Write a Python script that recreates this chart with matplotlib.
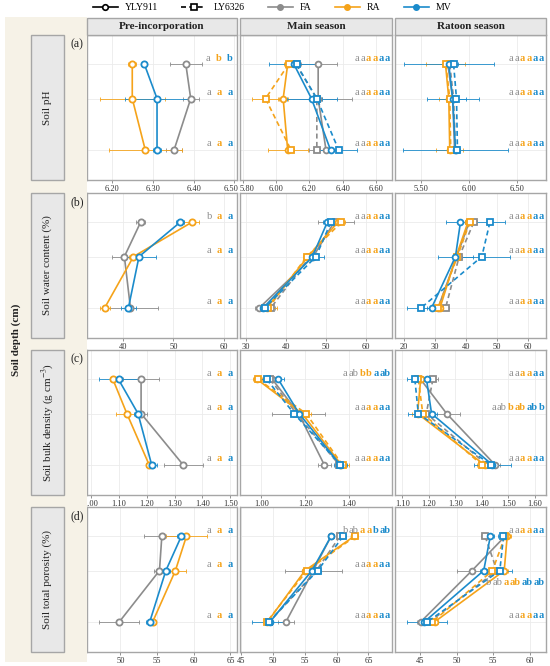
import matplotlib
matplotlib.use('Agg')
import matplotlib.pyplot as plt
from matplotlib.patches import Rectangle
from matplotlib.lines import Line2D
from matplotlib.textpath import TextPath
from matplotlib.font_manager import FontProperties
from matplotlib.transforms import ScaledTranslation

FONT = 'Liberation Serif'
plt.rcParams['font.family'] = [FONT, 'DejaVu Serif']
plt.rcParams['mathtext.fontset'] = 'stix'

# ---------------- data ----------------
depth_mid = [2.5, 7.5, 15]
depth_labels = ['0–5', '5–10', '10–20']
treatments = ['FA', 'RA', 'MV']
cultivars = ['YLY911', 'LY6326']
periods = ['Pre-incorporation', 'Main season', 'Ratoon season']

# soil pH
ph_pre = {'FA': [6.381, 6.393, 6.352], 'RA': [6.249, 6.249, 6.281], 'MV': [6.279, 6.310, 6.310]}
ph_pre_se = {'FA': [0.04, 0.02, 0.02], 'RA': [0.01, 0.08, 0.09], 'MV': [0.005, 0.08, 0.01]}
ph_main = {'FA_YLY911': [6.253, 6.253, 6.300], 'FA_LY6326': [6.120, 6.245, 6.245],
           'RA_YLY911': [6.070, 6.043, 6.070], 'RA_LY6326': [6.075, 5.937, 6.090],
           'MV_YLY911': [6.108, 6.213, 6.327], 'MV_LY6326': [6.123, 6.245, 6.376]}
ph_main_se = {'FA_YLY911': [0.11, 0.20, 0.04], 'FA_LY6326': [0.03, 0.03, 0.05],
              'RA_YLY911': [0.02, 0.03, 0.12], 'RA_LY6326': [0.02, 0.08, 0.02],
              'MV_YLY911': [0.15, 0.15, 0.04], 'MV_LY6326': [0.02, 0.03, 0.11]}
ph_rat = {'FA_YLY911': [5.78, 5.83, 5.85], 'FA_LY6326': [5.80, 5.84, 5.86],
          'RA_YLY911': [5.756, 5.79, 5.80], 'RA_LY6326': [5.76, 5.80, 5.81],
          'MV_YLY911': [5.79, 5.83, 5.86], 'MV_LY6326': [5.84, 5.87, 5.88]}
ph_rat_se = {'FA_YLY911': [0.05, 0.05, 0.05], 'FA_LY6326': [0.03, 0.05, 0.03],
             'RA_YLY911': [0.20, 0.10, 0.14], 'RA_LY6326': [0.03, 0.03, 0.03],
             'MV_YLY911': [0.47, 0.27, 0.55], 'MV_LY6326': [0.05, 0.10, 0.03]}

# soil water content (%)
swc_pre = {'FA': [43.5, 40.3, 41.5], 'RA': [53.6, 42.1, 36.4], 'MV': [51.3, 43.2, 41.1]}
swc_pre_se = {'FA': [0.8, 2.5, 5.5], 'RA': [1.5, 0.8, 1.0], 'MV': [0.8, 3.3, 1.5]}
swc_main = {'FA_YLY911': [52.0, 46.8, 33.3], 'FA_LY6326': [52.5, 46.0, 36.2],
            'RA_YLY911': [52.9, 45.5, 35.2], 'RA_LY6326': [53.8, 45.2, 35.6],
            'MV_YLY911': [50.3, 46.6, 34.3], 'MV_LY6326': [51.2, 47.5, 34.7]}
swc_main_se = {'FA_YLY911': [1.5, 1.0, 1.0], 'FA_LY6326': [4.5, 1.0, 1.0],
               'RA_YLY911': [1.0, 1.0, 2.5], 'RA_LY6326': [1.0, 1.0, 1.0],
               'MV_YLY911': [1.0, 1.5, 1.0], 'MV_LY6326': [1.0, 2.0, 1.0]}
swc_rat = {'FA_YLY911': [41.0, 37.0, 31.0], 'FA_LY6326': [42.5, 37.8, 33.4],
           'RA_YLY911': [40.6, 36.8, 31.6], 'RA_LY6326': [41.2, 37.2, 31.0],
           'MV_YLY911': [38.2, 36.6, 28.9], 'MV_LY6326': [47.7, 45.1, 25.5]}
swc_rat_se = {'FA_YLY911': [1.0, 1.0, 1.0], 'FA_LY6326': [1.0, 1.0, 1.0],
              'RA_YLY911': [1.0, 1.0, 1.0], 'RA_LY6326': [1.5, 1.0, 1.0],
              'MV_YLY911': [4.8, 5.6, 1.5], 'MV_LY6326': [5.0, 9.0, 4.5]}

# soil bulk density (g cm-3)
bd_pre = {'FA': [1.180, 1.180, 1.331], 'RA': [1.079, 1.129, 1.209], 'MV': [1.099, 1.169, 1.218]}
bd_pre_se = {'FA': [0.065, 0.02, 0.07], 'RA': [0.01, 0.04, 0.01], 'MV': [0.07, 0.015, 0.02]}
bd_main = {'FA_YLY911': [1.050, 1.170, 1.287], 'FA_LY6326': [1.040, 1.160, 1.355],
           'RA_YLY911': [0.981, 1.186, 1.365], 'RA_LY6326': [0.985, 1.204, 1.370],
           'MV_YLY911': [1.077, 1.172, 1.360], 'MV_LY6326': [1.024, 1.149, 1.360]}
bd_main_se = {'FA_YLY911': [0.02, 0.12, 0.03], 'FA_LY6326': [0.02, 0.02, 0.02],
              'RA_YLY911': [0.02, 0.02, 0.02], 'RA_LY6326': [0.02, 0.02, 0.03],
              'MV_YLY911': [0.025, 0.02, 0.02], 'MV_LY6326': [0.03, 0.02, 0.03]}
bd_rat = {'FA_YLY911': [1.169, 1.267, 1.450], 'FA_LY6326': [1.215, 1.190, 1.420],
          'RA_YLY911': [1.169, 1.157, 1.410], 'RA_LY6326': [1.160, 1.177, 1.400],
          'MV_YLY911': [1.191, 1.210, 1.440], 'MV_LY6326': [1.147, 1.160, 1.435]}
bd_rat_se = {'FA_YLY911': [0.02, 0.05, 0.02], 'FA_LY6326': [0.02, 0.02, 0.02],
             'RA_YLY911': [0.02, 0.02, 0.02], 'RA_LY6326': [0.02, 0.02, 0.02],
             'MV_YLY911': [0.02, 0.02, 0.07], 'MV_LY6326': [0.03, 0.04, 0.02]}

# soil total porosity (%)
tp_pre = {'FA': [55.65, 55.33, 49.85], 'RA': [59.0, 57.5, 54.4], 'MV': [58.3, 56.2, 54.0]}
tp_pre_se = {'FA': [2.4, 0.7, 2.7], 'RA': [2.8, 1.4, 0.5], 'MV': [0.6, 0.5, 0.5]}
tp_main = {'FA_YLY911': [59.1, 56.3, 52.0], 'FA_LY6326': [60.5, 56.8, 49.4],
           'RA_YLY911': [62.7, 55.0, 49.1], 'RA_LY6326': [62.9, 55.3, 49.0],
           'MV_YLY911': [59.1, 56.1, 49.5], 'MV_LY6326': [61.0, 57.0, 49.3]}
tp_main_se = {'FA_YLY911': [0.5, 4.5, 1.3], 'FA_LY6326': [0.5, 0.5, 0.5],
              'RA_YLY911': [0.5, 0.5, 0.5], 'RA_LY6326': [0.5, 0.5, 0.5],
              'MV_YLY911': [0.5, 0.5, 2.8], 'MV_LY6326': [0.5, 0.5, 0.5]}
tp_rat = {'FA_YLY911': [56.6, 52.1, 45.1], 'FA_LY6326': [53.9, 55.5, 46.3],
          'RA_YLY911': [56.9, 56.5, 47.0], 'RA_LY6326': [56.6, 54.9, 46.7],
          'MV_YLY911': [54.6, 53.7, 45.6], 'MV_LY6326': [56.4, 55.9, 46.0]}
tp_rat_se = {'FA_YLY911': [0.5, 2.0, 0.5], 'FA_LY6326': [0.5, 0.5, 0.5],
             'RA_YLY911': [0.5, 0.5, 0.5], 'RA_LY6326': [0.5, 0.5, 0.5],
             'MV_YLY911': [0.5, 0.5, 0.8], 'MV_LY6326': [0.8, 1.7, 2.7]}

# significance letters (pre: FA, RA, MV; seasons: FA/RA/MV x YLY911/LY6326)
ph_letters = [[['a', 'b', 'b'], ['a', 'a', 'a'], ['a', 'a', 'a']],
              [['a'] * 6, ['a'] * 6, ['a'] * 6],
              [['a'] * 6, ['a'] * 6, ['a'] * 6]]
swc_letters = [[['b', 'a', 'a'], ['a', 'a', 'a'], ['a', 'a', 'a']],
               [['a'] * 6, ['a'] * 6, ['a'] * 6],
               [['a'] * 6, ['a'] * 6, ['a'] * 6]]
bd_letters = [[['a', 'a', 'a'], ['a', 'a', 'a'], ['a', 'a', 'a']],
              [['a', 'ab', 'b', 'b', 'a', 'ab'], ['a'] * 6, ['a'] * 6],
              [['a'] * 6, ['a', 'ab', 'b', 'ab', 'ab', 'b'], ['a'] * 6]]
tp_letters = [[['a', 'a', 'a'], ['a', 'a', 'a'], ['a', 'a', 'a']],
              [['b', 'ab', 'a', 'a', 'b', 'ab'], ['a'] * 6, ['a'] * 6],
              [['a'] * 6, ['b', 'ab', 'a', 'ab', 'ab', 'ab'], ['a'] * 6]]

row_titles = ['Soil pH', 'Soil water content (%)',
              r'Soil bulk density (g cm$^{-3}$)', 'Soil total porosity (%)']
tags = ['(a)', '(b)', '(c)', '(d)']

# ---------------- style ----------------
colors = {'FA': '#8c8c8c', 'RA': '#f5a31a', 'MV': '#1b8bcb'}
cv_style = {'YLY911': ('-', 'o'), 'LY6326': ('--', 's')}

rows = [
    ([ph_pre, ph_main, ph_rat], [ph_pre_se, ph_main_se, ph_rat_se], ph_letters,
     [(6.1375, 6.507), (5.784, 6.696), (5.231, 6.80)],
     [[6.2, 6.3, 6.4, 6.5], [5.8, 6.0, 6.2, 6.4, 6.6], [5.5, 6.0, 6.5]], '{:.2f}'),
    ([swc_pre, swc_main, swc_rat], [swc_pre_se, swc_main_se, swc_rat_se], swc_letters,
     [(32.9, 62.6), (28.5, 66.5), (17.1, 65.8)],
     [[40, 50, 60], [30, 40, 50, 60], [20, 30, 40, 50, 60]], '{:.0f}'),
    ([bd_pre, bd_main, bd_rat], [bd_pre_se, bd_main_se, bd_rat_se], bd_letters,
     [(0.986, 1.524), (0.902, 1.596), (1.072, 1.642)],
     [[1.0, 1.1, 1.2, 1.3, 1.4, 1.5], [1.0, 1.2, 1.4], [1.1, 1.2, 1.3, 1.4, 1.5, 1.6]], '{:.2f}'),
    ([tp_pre, tp_main, tp_rat], [tp_pre_se, tp_main_se, tp_rat_se], tp_letters,
     [(45.45, 65.9), (44.78, 68.7), (41.6, 62.2)],
     [[50, 55, 60, 65], [45, 50, 55, 60, 65], [45, 50, 55, 60]], '{:.0f}'),
]

W, H = 550, 666
col_x = [(87, 237), (240, 392), (395, 546)]
row_y = [(35, 180), (193, 338), (350, 495), (507, 652)]
edge = '#a6a6a6'
strip_face = '#e8e8e8'

fig = plt.figure(figsize=(W / 100, H / 100), dpi=100)


def fx(px):
    return px / W


def fy(py):
    return 1 - py / H


def text_width(s, size, weight):
    tp = TextPath((0, 0), s, size=size, prop=FontProperties(family=FONT, weight=weight))
    return tp.get_extents().width


# beige background on the left
fig.patches.append(Rectangle((fx(5), fy(662)), fx(82), 645 / H, transform=fig.transFigure,
                             facecolor='#f6f2e7', edgecolor='none', zorder=0))

# column header strips
for (x0, x1), name in zip(col_x, periods):
    fig.patches.append(Rectangle((fx(x0), fy(35)), fx(x1 - x0), 17 / H, transform=fig.transFigure,
                                 facecolor=strip_face, edgecolor=edge, lw=1, zorder=1))
    fig.text(fx((x0 + x1) / 2), fy(26.5), name, ha='center', va='center',
             fontsize=8, fontweight='bold', color='#222222')

fig.text(fx(16), fy(340), 'Soil depth (cm)', rotation=90, ha='center', va='center',
         fontsize=8, fontweight='bold', color='#222222')

letter_size = 7.5
for r, (means, ses, letters, xlims, xticks, fmt) in enumerate(rows):
    y0, y1 = row_y[r]
    # row strip
    fig.patches.append(Rectangle((fx(31), fy(y1)), fx(33), (y1 - y0) / H, transform=fig.transFigure,
                                 facecolor=strip_face, edgecolor=edge, lw=1, zorder=1))
    fig.text(fx(47.5), fy((y0 + y1) / 2), row_titles[r], rotation=90, ha='center', va='center',
             fontsize=8, color='#222222')
    fig.text(fx(77), fy(y0 + 9), tags[r], ha='center', va='center', fontsize=8.5, color='#222222')

    for c in range(3):
        x0, x1 = col_x[c]
        ax = fig.add_axes([fx(x0), fy(y1), fx(x1 - x0), (y1 - y0) / H])
        ax.set_facecolor('white')
        ax.set_axisbelow(True)
        ax.grid(True, color='#ebebeb', lw=0.6)
        for s in ax.spines.values():
            s.set_color(edge)
            s.set_linewidth(1)

        if c == 0:
            for t in treatments:
                col = colors[t]
                ax.errorbar(means[c][t], depth_mid, xerr=ses[c][t], fmt='none', ecolor=col,
                            elinewidth=0.6, capsize=1.6, capthick=0.6, zorder=2)
                ax.plot(means[c][t], depth_mid, ls='-', marker='o', color=col, lw=1.2,
                        mfc='white', mec=col, ms=4.5, mew=1.3, zorder=3)
        else:
            for t in treatments:
                col = colors[t]
                for cv in cultivars:
                    key = t + '_' + cv
                    ls, mk = cv_style[cv]
                    ax.errorbar(means[c][key], depth_mid, xerr=ses[c][key], fmt='none', ecolor=col,
                                elinewidth=0.6, capsize=1.6, capthick=0.6, zorder=2)
                    ax.plot(means[c][key], depth_mid, ls=ls, marker=mk, color=col, lw=1.2,
                            mfc='white', mec=col, ms=4.2, mew=1.3, zorder=3,
                            dashes=(3, 2) if ls == '--' else (None, None))

        ax.set_xlim(*xlims[c])
        ax.set_ylim(19.4, -1.8)
        ax.set_xticks(xticks[c])
        ax.set_xticklabels([fmt.format(v) for v in xticks[c]])
        ax.set_yticks(depth_mid)
        ax.tick_params(axis='x', length=2, width=0.5, color='#666666', labelsize=6,
                       pad=1.5, labelcolor='#333333')
        # the neighbouring 6.50 / 5.80 labels sit edge to edge in the first row
        if r == 0 and c == 0:
            lab = ax.get_xticklabels()[-1]
            lab.set_transform(lab.get_transform() + ScaledTranslation(-3 / 100, 0, fig.dpi_scale_trans))
        if r == 0 and c == 1:
            lab = ax.get_xticklabels()[0]
            lab.set_transform(lab.get_transform() + ScaledTranslation(4 / 100, 0, fig.dpi_scale_trans))
        if c == 0:
            ax.set_yticklabels(depth_labels)
            ax.tick_params(axis='y', length=2, width=0.5, color='#666666', labelsize=6,
                           pad=1.5, labelcolor='#333333')
        else:
            ax.set_yticklabels([])
            ax.tick_params(axis='y', length=0)

        # significance letters
        for d in range(3):
            labs = letters[c][d]
            if c == 0:
                owners = treatments
                gap = 4.2
                cur = -3.0
            else:
                owners = [t for t in treatments for _ in cultivars]
                gap = 1.2
                cur = -1.2
            yoff = -0.9
            if r == 3 and c == 2 and d == 1:
                yoff = 1.8
            for lab, own in reversed(list(zip(labs, owners))):
                weight = 'normal' if own == 'FA' else 'bold'
                ax.annotate(lab, xy=(1, depth_mid[d] + yoff), xycoords=('axes fraction', 'data'),
                            xytext=(cur, 0), textcoords='offset points', ha='right', va='center',
                            fontsize=letter_size, fontweight=weight, color=colors[own])
                cur -= text_width(lab, letter_size, weight) + gap

# legend
handles = [Line2D([], [], color='black', ls='-', marker='o', mfc='white', mec='black', ms=4, mew=1.2, lw=1.2),
           Line2D([], [], color='black', ls='--', marker='s', mfc='white', mec='black', ms=4, mew=1.2, lw=1.2,
                  dashes=(3, 2)),
           Line2D([], [], color=colors['FA'], ls='-', marker='o', ms=4, lw=1.2),
           Line2D([], [], color=colors['RA'], ls='-', marker='o', ms=4, lw=1.2),
           Line2D([], [], color=colors['MV'], ls='-', marker='o', ms=4, lw=1.2)]
fig.legend(handles, cultivars + treatments, loc='center', bbox_to_anchor=(fx(272), fy(8)), ncol=5,
           frameon=False, fontsize=7, handlelength=2.6, columnspacing=2.4, handletextpad=0.7)

fig.savefig('out.png', dpi=100)
